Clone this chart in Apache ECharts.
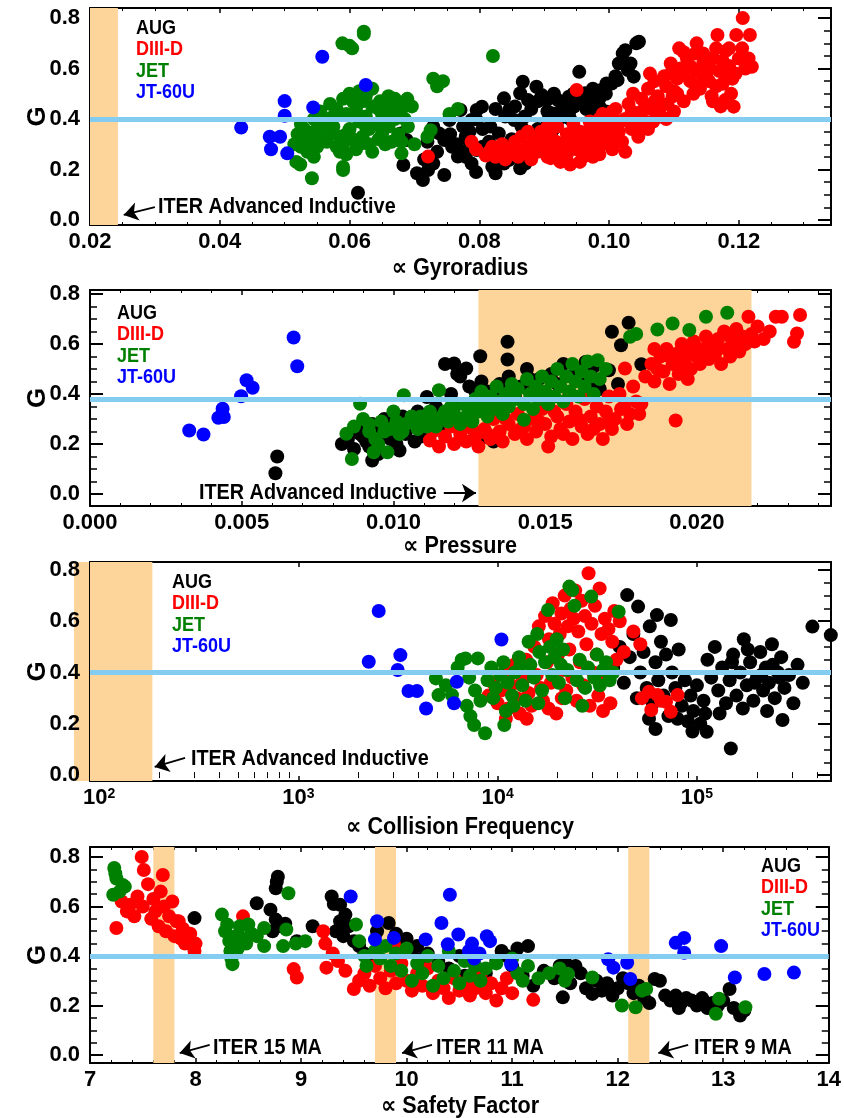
<!DOCTYPE html>
<html>
<head>
<meta charset="utf-8">
<title>G scaling</title>
<script src="https://cdn.jsdelivr.net/npm/echarts@6/dist/echarts.min.js"></script>
<style>
html, body { margin: 0; background: #fff; }
#chart { width: 844px; height: 1118px; }
</style>
</head>
<body>
<div id="chart"></div>
<script>
// tick labels
const yTicks = [0, 0.2, 0.4, 0.6, 0.8];
const gyroTicks = [0.02, 0.04, 0.06, 0.08, 0.10, 0.12];
const pressTicks = [0, 0.005, 0.010, 0.015, 0.020];
const collTicks = [100, 1000, 10000, 100000];
const collMinor = [200, 300, 400, 500, 600, 700, 800, 900, 2000, 3000, 4000, 5000, 6000, 7000, 8000, 9000,
  20000, 30000, 40000, 50000, 60000, 70000, 80000, 90000, 200000, 300000, 400000];
const safetyTicks = [7, 8, 9, 10, 11, 12, 13, 14];

// ---- panel 1 : gyroradius ----
const augGyro = [[0.0613,0.108],[0.0679,0.343],[0.0688,0.317],[0.0683,0.218],[0.0704,0.185],[0.0713,0.158],[0.0721,0.198],[0.0729,0.224],
  [0.0729,0.37],[0.0738,0.343],[0.0746,0.317],[0.0754,0.396],[0.0758,0.29],[0.0767,0.251],[0.0746,0.178],[0.0771,0.436],[0.0775,0.37],
  [0.0779,0.33],[0.0788,0.396],[0.0796,0.436],[0.0804,0.449],[0.0779,0.25],[0.0788,0.224],[0.0796,0.277],[0.082,0.211],[0.0825,0.185],
  [0.0838,0.224],[0.0846,0.238],[0.0863,0.205],[0.0871,0.224],[0.0817,0.37],[0.083,0.343],[0.0838,0.482],[0.0846,0.436],[0.0854,0.396],
  [0.0863,0.502],[0.0867,0.548],[0.0875,0.475],[0.0888,0.528],[0.0896,0.495],[0.0904,0.475],[0.0913,0.422],[0.0921,0.475],[0.0929,0.409],
  [0.0938,0.488],[0.0946,0.449],[0.0913,0.356],[0.0938,0.422],[0.0954,0.587],[0.0963,0.502],[0.0971,0.475],[0.0979,0.436],[0.0988,0.515],
  [0.0996,0.541],[0.1004,0.541],[0.1013,0.554],[0.1021,0.66],[0.1025,0.673],[0.1033,0.62],[0.1042,0.70],[0.1046,0.706],[0.1029,0.594],
  [0.1038,0.568],[0.0765,0.30],[0.0775,0.27],[0.0785,0.35],[0.0795,0.40],[0.081,0.26],[0.0815,0.31],[0.0835,0.27],[0.085,0.32],
  [0.0855,0.45],[0.087,0.41],[0.088,0.44],[0.089,0.36],[0.0905,0.43],[0.0915,0.50],[0.092,0.39],[0.0935,0.46],[0.095,0.47],[0.0965,0.44],
  [0.0975,0.52],[0.0985,0.48],[0.0995,0.50],[0.101,0.57],[0.1015,0.62],[0.0905,0.39],[0.0925,0.43],[0.0945,0.50],[0.0965,0.48],
  [0.0985,0.45],[0.0995,0.43],[0.094,0.40],[0.089,0.47],[0.0865,0.37],[0.084,0.41],[0.0805,0.29],[0.0785,0.31],[0.0755,0.34],
  [0.0735,0.27],[0.072,0.31],[0.0715,0.24],[0.0795,0.19],[0.0805,0.36],[0.0825,0.44]];
const diiidGyro = [[0.0721,0.251],[0.0788,0.31],[0.0795,0.28],[0.081,0.255],[0.0815,0.27],[0.082,0.29],[0.0825,0.25],[0.083,0.265],
  [0.0835,0.30],[0.084,0.24],[0.0845,0.28],[0.085,0.26],[0.0855,0.31],[0.086,0.25],[0.0865,0.33],[0.087,0.27],[0.0875,0.29],[0.088,0.24],
  [0.0885,0.32],[0.089,0.27],[0.0895,0.35],[0.090,0.29],[0.0905,0.25],[0.091,0.33],[0.0915,0.28],[0.092,0.37],[0.0925,0.30],[0.093,0.26],
  [0.0935,0.34],[0.094,0.22],[0.094,0.31],[0.0945,0.38],[0.095,0.28],[0.095,0.515],[0.0955,0.35],[0.096,0.25],[0.0965,0.32],[0.097,0.39],
  [0.0975,0.29],[0.098,0.36],[0.0985,0.26],[0.099,0.42],[0.0995,0.33],[0.100,0.38],[0.1005,0.28],[0.101,0.44],[0.1015,0.35],[0.102,0.31],
  [0.1025,0.40],[0.103,0.46],[0.1035,0.36],[0.1037,0.50],[0.104,0.42],[0.1045,0.33],[0.105,0.48],[0.1055,0.39],[0.106,0.52],[0.1063,0.58],
  [0.1065,0.44],[0.107,0.55],[0.1075,0.49],[0.108,0.41],[0.1085,0.57],[0.1088,0.53],[0.109,0.46],[0.1095,0.62],[0.110,0.51],[0.1105,0.56],
  [0.1108,0.68],[0.111,0.60],[0.1115,0.47],[0.112,0.64],[0.1125,0.55],[0.1133,0.66],[0.1135,0.59],[0.114,0.52],[0.1145,0.62],[0.115,0.57],
  [0.1154,0.55],[0.1158,0.49],[0.116,0.64],[0.1167,0.733],[0.117,0.59],[0.1175,0.54],[0.1179,0.475],[0.118,0.67],[0.1185,0.61],[0.119,0.56],
  [0.1192,0.449],[0.1196,0.733],[0.120,0.64],[0.1206,0.80],[0.121,0.60],[0.1217,0.733],[0.122,0.607],[0.1343,0.39],[0.0875,0.35],
  [0.0905,0.37],[0.0925,0.23],[0.0965,0.27],[0.0985,0.40],[0.1005,0.43],[0.1025,0.27],[0.104,0.38],[0.106,0.36],[0.091,0.245],[0.0935,0.26],
  [0.097,0.345],[0.099,0.30],[0.101,0.31],[0.103,0.40],[0.105,0.43],[0.107,0.47],[0.110,0.43],[0.113,0.50],[0.1145,0.56],[0.1165,0.53],
  [0.118,0.58],[0.1135,0.70],[0.1115,0.665],[0.1095,0.58],[0.1105,0.50],[0.1115,0.58],[0.1125,0.61],[0.1135,0.53],[0.1145,0.66],
  [0.1155,0.60],[0.1165,0.68],[0.1175,0.63],[0.1185,0.68],[0.1195,0.58],[0.1205,0.68],[0.1215,0.64],[0.1160,0.47],[0.1172,0.45],
  [0.1188,0.50],[0.1098,0.49],[0.1078,0.44],[0.1058,0.45],[0.1035,0.43],[0.1018,0.39],[0.0998,0.36],[0.0978,0.33],[0.0958,0.30],
  [0.0938,0.29],[0.0918,0.31],[0.0898,0.30],[0.0878,0.27],[0.0858,0.28],[0.0838,0.27],[0.1048,0.36],[0.1068,0.39],[0.1088,0.40],
  [0.1005,0.33],[0.0965,0.35],[0.0945,0.33],[0.0925,0.27],[0.0905,0.31],[0.0955,0.23],[0.0975,0.25]];
const jetGyro = [[0.0515,0.30],[0.052,0.34],[0.0525,0.38],[0.053,0.36],[0.0535,0.27],[0.054,0.32],[0.0545,0.40],[0.055,0.35],[0.055,0.29],
  [0.0555,0.43],[0.056,0.38],[0.0565,0.31],[0.057,0.46],[0.057,0.34],[0.0575,0.41],[0.058,0.29],[0.058,0.44],[0.0585,0.33],[0.059,0.48],
  [0.059,0.30],[0.0595,0.42],[0.060,0.36],[0.060,0.50],[0.0605,0.32],[0.061,0.44],[0.061,0.28],[0.0615,0.39],[0.062,0.47],[0.062,0.33],
  [0.0625,0.41],[0.063,0.36],[0.063,0.30],[0.0635,0.45],[0.064,0.38],[0.0645,0.32],[0.065,0.42],[0.065,0.34],[0.0655,0.30],[0.066,0.46],
  [0.066,0.37],[0.0665,0.31],[0.067,0.48],[0.067,0.40],[0.0675,0.34],[0.068,0.44],[0.068,0.31],[0.069,0.37],[0.070,0.30],[0.0575,0.37],
  [0.0635,0.27],[0.0595,0.26],[0.0545,0.25],[0.0535,0.31],[0.0605,0.47],[0.0615,0.51],[0.0625,0.49],[0.0635,0.52],[0.0647,0.47],
  [0.066,0.49],[0.0675,0.46],[0.0689,0.48],[0.0696,0.45],[0.0589,0.70],[0.060,0.69],[0.0604,0.68],[0.0622,0.746],[0.0622,0.737],
  [0.0821,0.65],[0.0729,0.56],[0.0744,0.55],[0.0735,0.53],[0.0518,0.23],[0.0524,0.22],[0.0542,0.165],[0.059,0.21],[0.059,0.198],
  [0.068,0.264],[0.0767,0.44],[0.0754,0.42],[0.072,0.33],[0.0725,0.356],[0.0625,0.37],[0.0595,0.34],[0.0555,0.32],[0.0565,0.40],
  [0.0645,0.44],[0.0605,0.42],[0.0615,0.30],[0.0585,0.27],[0.0665,0.43],[0.0655,0.39],[0.0685,0.40],[0.0525,0.29],[0.0545,0.35]];
const jt60Gyro = [[0.0433,0.366],[0.0477,0.330],[0.0479,0.280],[0.0493,0.330],[0.0500,0.471],[0.0500,0.413],[0.0504,0.264],
  [0.0544,0.446],[0.0558,0.647],[0.0625,0.535]];

// ---- panel 2 : pressure ----
const augPress = [[0.00611,0.083],[0.00617,0.150],[0.0083,0.20],[0.0085,0.22],[0.0087,0.18],[0.0089,0.24],[0.0091,0.21],[0.0093,0.134],
  [0.0093,0.28],[0.0095,0.16],[0.0095,0.25],[0.0097,0.30],[0.0099,0.22],[0.0100,0.27],[0.0102,0.174],[0.0103,0.31],[0.0104,0.24],
  [0.0106,0.29],[0.0107,0.21],[0.0108,0.33],[0.0110,0.26],[0.0111,0.388],[0.0112,0.30],[0.0114,0.35],[0.0116,0.28],[0.0118,0.32],
  [0.0119,0.40],[0.0120,0.522],[0.0121,0.36],[0.0122,0.47],[0.0123,0.30],[0.0124,0.502],[0.0125,0.43],[0.0126,0.34],[0.0128,0.38],
  [0.01286,0.551],[0.0129,0.45],[0.0131,0.227],[0.0131,0.41],[0.0133,0.36],[0.0135,0.44],[0.01376,0.609],[0.01376,0.538],[0.0138,0.47],
  [0.0140,0.39],[0.0142,0.43],[0.0144,0.50],[0.0146,0.41],[0.0148,0.46],[0.0150,0.38],[0.0152,0.48],[0.0154,0.44],[0.0156,0.52],
  [0.0158,0.40],[0.0160,0.49],[0.01633,0.528],[0.0165,0.45],[0.0168,0.42],[0.0171,0.495],[0.0172,0.649],[0.0174,0.44],[0.0175,0.595],
  [0.01775,0.685],[0.01817,0.519],[0.0129,0.24],[0.0133,0.21],[0.0117,0.52],[0.0121,0.48],[0.0088,0.26],[0.0092,0.19],[0.0096,0.23],
  [0.0101,0.20],[0.0105,0.27],[0.0109,0.23],[0.0113,0.27],[0.0098,0.28],[0.0090,0.23],[0.0115,0.32],[0.0127,0.41],[0.0136,0.40],
  [0.0145,0.46],[0.0162,0.47],[0.0166,0.51]];
const diiidPress = [[0.0112,0.214],[0.0113,0.25],[0.0115,0.19],[0.0117,0.23],[0.0119,0.27],[0.0120,0.20],[0.0122,0.24],[0.0124,0.21],
  [0.0125,0.28],[0.0127,0.23],[0.0128,0.19],[0.0130,0.26],[0.0132,0.22],[0.0133,0.30],[0.0135,0.25],[0.0136,0.21],[0.0138,0.28],
  [0.0140,0.24],[0.0141,0.32],[0.0143,0.27],[0.0144,0.22],[0.0146,0.30],[0.0147,0.25],[0.0149,0.34],[0.0150,0.28],[0.0151,0.19],
  [0.0152,0.23],[0.0154,0.31],[0.0155,0.26],[0.0157,0.36],[0.0158,0.29],[0.0159,0.22],[0.0160,0.33],[0.0162,0.27],[0.0163,0.38],
  [0.0164,0.24],[0.0165,0.31],[0.0167,0.35],[0.0168,0.28],[0.0169,0.22],[0.0170,0.33],[0.0171,0.39],[0.0172,0.26],[0.0173,0.30],
  [0.01745,0.40],[0.0175,0.34],[0.01763,0.502],[0.0177,0.28],[0.0178,0.32],[0.0180,0.37],[0.01817,0.361],[0.0179,0.43],
  [0.0183,0.47],[0.0185,0.52],[0.0186,0.45],[0.0188,0.55],[0.0189,0.49],[0.0190,0.58],[0.0191,0.44],[0.0192,0.52],[0.0193,0.294],
  [0.0193,0.56],[0.0194,0.48],[0.0195,0.60],[0.0196,0.53],[0.0197,0.57],[0.0198,0.50],[0.0199,0.61],[0.0200,0.55],[0.0201,0.52],
  [0.0202,0.58],[0.0203,0.63],[0.0204,0.54],[0.0205,0.59],[0.0206,0.56],[0.0207,0.62],[0.0208,0.52],[0.0209,0.65],[0.0210,0.58],
  [0.0211,0.55],[0.0212,0.61],[0.0213,0.66],[0.0214,0.57],[0.0215,0.63],[0.0217,0.709],[0.0216,0.60],[0.0218,0.64],[0.0220,0.67],
  [0.0222,0.62],[0.0226,0.709],[0.0228,0.709],[0.0232,0.609],[0.0233,0.642],[0.0234,0.716],[0.0246,0.776],[0.0126,0.26],[0.0131,0.24],
  [0.0137,0.30],[0.0142,0.26],[0.0148,0.29],[0.0153,0.33],[0.0156,0.24],[0.0161,0.30],[0.0166,0.26],[0.0171,0.29],[0.0176,0.35],
  [0.0181,0.32],[0.0187,0.50],[0.0191,0.55],[0.0195,0.52],[0.0199,0.56],[0.0203,0.57],[0.0207,0.58],[0.0211,0.63],[0.0215,0.60],
  [0.0219,0.61],[0.0224,0.65],[0.0186,0.58],[0.0197,0.46]];
const jetPress = [[0.00845,0.241],[0.00863,0.14],[0.0087,0.27],[0.0089,0.361],[0.0090,0.30],[0.0092,0.25],[0.00935,0.167],[0.0094,0.22],
  [0.0096,0.29],[0.0098,0.167],[0.0099,0.26],[0.0100,0.33],[0.01034,0.395],[0.0102,0.24],[0.0104,0.28],[0.0106,0.31],[0.0108,0.26],
  [0.0110,0.29],[0.0112,0.33],[0.0114,0.27],[0.0115,0.415],[0.0116,0.31],[0.0118,0.29],[0.0119,0.35],[0.0120,0.32],[0.0122,0.28],
  [0.0123,0.36],[0.0124,0.31],[0.0125,0.34],[0.0126,0.29],[0.0127,0.38],[0.0128,0.33],[0.0129,0.41],[0.0130,0.36],[0.0131,0.31],
  [0.0132,0.39],[0.0133,0.34],[0.0134,0.43],[0.0135,0.37],[0.0136,0.32],[0.0137,0.40],[0.0138,0.35],[0.0139,0.44],[0.0140,0.38],
  [0.0141,0.42],[0.0143,0.297],[0.0143,0.36],[0.0144,0.46],[0.0145,0.40],[0.0146,0.34],[0.0147,0.43],[0.0148,0.38],[0.0149,0.47],
  [0.0150,0.41],[0.0151,0.36],[0.0152,0.45],[0.0153,0.39],[0.0154,0.50],[0.0155,0.43],[0.0156,0.37],[0.0157,0.47],[0.0158,0.41],
  [0.0159,0.52],[0.0160,0.45],[0.0161,0.39],[0.0162,0.49],[0.0163,0.43],[0.0164,0.53],[0.0165,0.47],[0.0166,0.40],[0.01673,0.535],
  [0.0168,0.46],[0.0170,0.50],[0.0178,0.629],[0.0180,0.64],[0.0187,0.658],[0.0192,0.682],[0.01975,0.656],[0.0203,0.709],[0.0210,0.725],
  [0.0092,0.28],[0.0095,0.20],[0.0097,0.25],[0.0101,0.29],[0.0103,0.25],[0.0107,0.28],[0.0109,0.31],[0.0111,0.27],[0.0113,0.30],
  [0.0117,0.33]];
const jt60Press = [[0.00327,0.254],[0.00374,0.238],[0.00423,0.305],[0.00437,0.341],[0.00441,0.308],[0.00498,0.391],[0.00516,0.455],
  [0.00536,0.425],[0.00671,0.626],[0.00683,0.511]];

// ---- panel 3 : collision frequency ----
const augColl = [[44700,0.702],[50700,0.657],[63000,0.624],[74000,0.605],[380000,0.579],[470000,0.546],[148000,0.104],[269000,0.215],
  [62000,0.18],[57500,0.22],[112000,0.169],[38000,0.42],[41000,0.50],[43000,0.36],[46000,0.46],[48000,0.55],[50000,0.30],[52000,0.40],
  [54000,0.48],[56000,0.34],[58000,0.58],[60000,0.28],[62000,0.44],[64000,0.37],[66000,0.52],[68000,0.31],[70000,0.47],[72000,0.23],
  [75000,0.40],[78000,0.34],[81000,0.49],[84000,0.27],[87000,0.37],[90000,0.21],[93000,0.31],[96000,0.25],[100000,0.35],[104000,0.20],
  [108000,0.29],[113000,0.45],[118000,0.38],[123000,0.50],[128000,0.33],[134000,0.42],[140000,0.28],[146000,0.37],[152000,0.47],
  [158000,0.31],[165000,0.40],[172000,0.53],[178000,0.35],[185000,0.44],[192000,0.29],[200000,0.38],[208000,0.48],[215000,0.33],
  [222000,0.42],[230000,0.36],[238000,0.51],[246000,0.30],[255000,0.40],[265000,0.46],[275000,0.34],[290000,0.39],[305000,0.28],
  [320000,0.43],[340000,0.36],[170000,0.26],[195000,0.36],[225000,0.25],[150000,0.44],[180000,0.49],[210000,0.39],[240000,0.43],
  [260000,0.38],[130000,0.24],[95000,0.17],[80000,0.22],[110000,0.24]];
const diiidColl = [[9000,0.31],[9500,0.36],[10000,0.28],[10400,0.33],[10800,0.40],[11300,0.26],[11700,0.35],[12100,0.43],[12500,0.30],
  [12900,0.24],[13400,0.37],[13900,0.45],[14300,0.32],[14800,0.27],[15300,0.50],[15700,0.39],[16100,0.58],[16500,0.34],[16900,0.29],
  [17300,0.62],[17700,0.44],[18100,0.53],[18500,0.36],[18900,0.67],[19300,0.59],[19700,0.24],[20100,0.47],[20500,0.55],[20900,0.63],
  [21300,0.41],[21700,0.70],[22100,0.33],[22500,0.58],[22900,0.49],[23300,0.65],[23700,0.38],[24100,0.61],[24500,0.72],[24900,0.29],
  [25400,0.56],[25900,0.44],[26400,0.68],[26900,0.35],[27400,0.62],[27900,0.51],[28600,0.787],[29000,0.27],[29600,0.59],[30200,0.40],
  [30800,0.66],[31400,0.47],[32000,0.31],[32500,0.728],[33200,0.55],[33800,0.25],[34500,0.61],[35200,0.38],[36000,0.57],[36800,0.28],
  [37600,0.52],[38500,0.64],[39500,0.45],[41000,0.60],[43000,0.48],[11000,0.22],[14000,0.22],[18000,0.26],[21000,0.30],
  [57500,0.325],[59000,0.254],[63500,0.312],[70000,0.286],[74000,0.247],[80000,0.312],[66000,0.29],[53000,0.30],[52000,0.51],[48000,0.56]];
const jetColl = [[4900,0.377],[5050,0.312],[5900,0.312],[5500,0.35],[6300,0.42],[6600,0.45],[6900,0.455],[7200,0.38],[7950,0.455],
  [7000,0.27],[7300,0.23],[7620,0.195],[8650,0.163],[10800,0.195],[7700,0.33],[8200,0.29],[8900,0.37],[9300,0.42],[9800,0.34],
  [10300,0.39],[10700,0.44],[11200,0.36],[11800,0.31],[12200,0.40],[12800,0.46],[13300,0.35],[13800,0.29],[14300,0.52],[14600,0.43],
  [15200,0.38],[15800,0.55],[16200,0.48],[16700,0.33],[17300,0.44],[17900,0.644],[18300,0.50],[18800,0.39],[19300,0.46],[19800,0.53],
  [20300,0.36],[20800,0.43],[21300,0.49],[21800,0.30],[22400,0.41],[22900,0.735],[23700,0.722],[24300,0.66],[25000,0.37],[25800,0.45],
  [26600,0.27],[27500,0.34],[28400,0.42],[29500,0.696],[30500,0.38],[31500,0.47],[32600,0.35],[33800,0.41],[35000,0.44],[36500,0.37],
  [38000,0.40],[40500,0.637],[12000,0.27],[11000,0.25],[16000,0.28],[13000,0.43],[9500,0.30]];
const jt60Coll = [[2530,0.64],[2255,0.442],[3250,0.468],[3150,0.41],[3570,0.328],[3935,0.328],[4375,0.26],[6240,0.364],[6040,0.28],
  [10450,0.529]];

// ---- panel 4 : safety factor ----
const augSafety = [[7.99,0.553],[8.58,0.613],[8.71,0.587],[8.76,0.673],[8.77,0.70],[8.78,0.72],[8.76,0.547],[8.81,0.52],[8.73,0.50],
  [8.85,0.53],[8.96,0.46],[9.11,0.52],[9.29,0.64],[9.31,0.61],[9.37,0.607],[9.42,0.567],[9.37,0.54],[9.33,0.50],[9.40,0.48],[9.45,0.52],
  [9.50,0.46],[9.55,0.44],[9.60,0.41],[9.65,0.38],[9.72,0.50],[9.83,0.533],[9.90,0.49],[9.95,0.45],[10.0,0.47],[10.05,0.42],[10.1,0.44],
  [10.15,0.39],[10.2,0.41],[10.3,0.38],[10.4,0.35],[10.5,0.40],[10.55,0.32],[10.59,0.253],[10.65,0.36],[10.7,0.30],[10.75,0.33],
  [10.85,0.38],[10.9,0.42],[10.95,0.40],[11.0,0.36],[11.05,0.43],[11.15,0.44],[11.2,0.28],[11.1,0.32],[11.3,0.34],[11.4,0.31],
  [11.45,0.36],[11.48,0.233],[11.5,0.38],[11.55,0.29],[11.6,0.36],[11.65,0.33],[11.7,0.27],[11.76,0.247],[11.8,0.30],[11.85,0.26],
  [11.9,0.29],[11.95,0.24],[12.0,0.27],[12.05,0.31],[12.1,0.29],[12.15,0.25],[12.2,0.28],[12.25,0.23],[12.35,0.307],[12.4,0.30],
  [12.45,0.24],[12.5,0.22],[12.55,0.24],[12.6,0.21],[12.65,0.23],[12.7,0.22],[12.75,0.20],[12.8,0.23],[12.85,0.19],[12.9,0.21],
  [12.95,0.20],[13.0,0.22],[13.06,0.267],[13.1,0.19],[13.16,0.16],[13.2,0.18],[12.3,0.21],[12.58,0.19]];
const diiidSafety = [[7.25,0.513],[7.3,0.62],[7.35,0.58],[7.38,0.607],[7.42,0.56],[7.45,0.64],[7.49,0.80],[7.51,0.747],[7.5,0.60],
  [7.55,0.69],[7.58,0.55],[7.6,0.63],[7.62,0.58],[7.65,0.52],[7.67,0.66],[7.69,0.727],[7.7,0.60],[7.72,0.50],[7.75,0.56],[7.78,0.62],
  [7.8,0.48],[7.82,0.54],[7.84,0.54],[7.86,0.47],[7.88,0.51],[7.9,0.45],[7.95,0.49],[7.99,0.42],[8.0,0.45],[8.45,0.56],[8.93,0.347],
  [8.96,0.313],[9.21,0.50],[9.23,0.45],[9.24,0.353],[9.3,0.41],[9.35,0.38],[9.42,0.34],[9.5,0.267],[9.55,0.30],[9.6,0.33],[9.65,0.28],
  [9.7,0.36],[9.75,0.31],[9.8,0.27],[9.85,0.34],[9.88,0.447],[9.9,0.29],[9.95,0.37],[10.0,0.30],[10.05,0.26],[10.1,0.33],[10.15,0.28],
  [10.2,0.35],[10.25,0.25],[10.3,0.30],[10.35,0.27],[10.4,0.23],[10.45,0.31],[10.5,0.26],[10.55,0.29],[10.6,0.24],[10.65,0.27],
  [10.7,0.32],[10.75,0.25],[10.8,0.29],[10.85,0.22],[10.9,0.27],[10.95,0.31],[11.0,0.25],[11.2,0.223]];
const jetSafety = [[7.22,0.647],[7.23,0.755],[7.24,0.733],[7.25,0.713],[7.31,0.687],[7.33,0.68],[7.28,0.66],[8.25,0.567],[8.28,0.50],
  [8.30,0.527],[8.32,0.46],[8.33,0.42],[8.34,0.39],[8.35,0.367],[8.36,0.44],[8.38,0.48],[8.40,0.43],[8.42,0.52],[8.45,0.47],[8.48,0.45],
  [8.50,0.527],[8.53,0.49],[8.58,0.48],[8.65,0.513],[8.65,0.44],[8.83,0.44],[8.88,0.653],[8.86,0.507],[9.04,0.46],[8.95,0.45],
  [9.52,0.527],[9.55,0.46],[9.6,0.40],[9.62,0.36],[9.7,0.42],[9.75,0.39],[9.8,0.44],[9.85,0.36],[9.9,0.41],[9.95,0.34],[10.0,0.43],
  [10.05,0.30],[10.1,0.37],[10.15,0.33],[10.2,0.40],[10.25,0.28],[10.3,0.36],[10.35,0.31],[10.4,0.42],[10.45,0.34],[10.5,0.29],
  [10.55,0.38],[10.6,0.32],[10.65,0.36],[10.7,0.30],[10.75,0.35],[10.85,0.37],[11.0,0.39],[11.05,0.33],[11.1,0.30],[11.15,0.36],
  [11.25,0.31],[11.35,0.33],[11.45,0.35],[11.53,0.327],[11.5,0.30],[11.76,0.313],[12.04,0.20],[12.17,0.193],[12.27,0.267],[12.23,0.26],
  [12.96,0.227],[12.93,0.167],[13.21,0.193]];
const jt60Safety = [[9.47,0.64],[9.72,0.54],[9.70,0.467],[9.88,0.473],[10.18,0.467],[10.33,0.533],[10.41,0.647],[10.39,0.447],
  [10.49,0.487],[10.59,0.42],[10.64,0.39],[10.62,0.45],[10.69,0.41],[10.76,0.48],[10.79,0.46],[10.99,0.367],[11.91,0.387],[11.96,0.353],
  [12.09,0.373],[12.12,0.307],[12.55,0.453],[12.63,0.473],[12.63,0.413],[12.98,0.44],[13.11,0.313],[13.39,0.327],[13.67,0.333]];

// ITER bands and reference G level
const gyroBands = [[0.02, 0.0243]];
const pressBands = [[0.0128, 0.0218]];
const collBands = [[74, 185]];
const safetyBands = [[7.6, 7.8], [9.7, 9.9], [12.1, 12.3]];
const gLevel = [0.40, 0.38, 0.40, 0.40];

// annotation arrows [from, to] in data units
const gyroArrows = [[[0.0300, 0.051], [0.0252, 0.020]]];
const pressArrows = [[[0.01166, 0.004], [0.01272, 0.004]]];
const collArrows = [[[270, 0.067], [190, 0.032]]];
const safetyArrows = [[[8.134, 0.041], [7.85, 0.008]], [[10.24, 0.041], [9.957, 0.008]], [[12.668, 0.041], [12.385, 0.008]]];

const FONT = "'Liberation Sans','DejaVu Sans',sans-serif";
const COLORS = { 'AUG': '#000000', 'DIII-D': '#ff0000', 'JET': '#008000', 'JT-60U': '#0000ff' };
const BAND = '#fdd49a';

const panels = [
    { top: 8, height: 217, ymin: -0.02, ymax: 0.84, type: 'value', min: 0.02, max: 0.1342, interval: 0.02, minor: 4,
      ticks: gyroTicks, digits: 2, name: '∝ Gyroradius', nameY: 268,
      sets: [augGyro, diiidGyro, jetGyro, jt60Gyro], bands: gyroBands, arrows: gyroArrows },
    { top: 290, height: 216, ymin: -0.048, ymax: 0.816, type: 'value', min: 0, max: 0.02442, interval: 0.005, minor: 5,
      ticks: pressTicks, digits: 3, name: '∝ Pressure', nameY: 546,
      sets: [augPress, diiidPress, jetPress, jt60Press], bands: pressBands, arrows: pressArrows },
    { top: 562, height: 219, ymin: -0.023, ymax: 0.831, type: 'log', min: 90, max: 471000,
      ticks: collTicks, name: '∝ Collision Frequency', nameY: 827,
      sets: [augColl, diiidColl, jetColl, jt60Coll], bands: collBands, arrows: collArrows },
    { top: 847, height: 216, ymin: -0.032, ymax: 0.84, type: 'value', min: 7, max: 14, interval: 1, minor: 5,
      ticks: safetyTicks, digits: 0, name: '∝ Safety Factor', nameY: 1106,
      sets: [augSafety, diiidSafety, jetSafety, jt60Safety], bands: safetyBands, arrows: safetyArrows }
];

const isTick = (list, v) => list.some(t => Math.abs(t - v) < 1e-9 * Math.max(1, Math.abs(t)));

const grid = [], xAxis = [], yAxis = [], series = [];
const boxLine = { show: true, onZero: false, lineStyle: { color: '#000', width: 2 } };
const xAxisOf = [];   // index of the bottom x axis of each grid

panels.forEach((p, g) => {
    grid.push({ left: 90, right: 13, top: p.top, height: p.height });

    const xBase = {
        gridIndex: g, type: p.type, min: p.min, max: p.max, splitLine: { show: false },
        axisLine: boxLine,
        axisTick: { show: true, inside: true, length: 5, customValues: p.ticks, lineStyle: { color: '#000', width: 1.5 } },
        minorTick: { show: p.type !== 'log', splitNumber: p.minor || 5, length: 3, lineStyle: { color: '#000', width: 1 } }
    };
    if (p.interval) xBase.interval = p.interval;
    if (p.type === 'log') xBase.logBase = 10;

    const xLabel = p.type === 'log'
        ? {
            customValues: p.ticks, margin: 6, color: '#000',
            formatter: v => '{b|10}{s|' + Math.round(Math.log10(v)) + '}',
            rich: {
                b: { fontSize: 22, fontWeight: 'bold', fontFamily: FONT, color: '#000', verticalAlign: 'bottom' },
                s: { fontSize: 14, fontWeight: 'bold', fontFamily: FONT, color: '#000', verticalAlign: 'top' }
            }
        }
        : {
            customValues: p.ticks, margin: 6, color: '#000', fontSize: 22, fontWeight: 'bold', fontFamily: FONT,
            formatter: v => isTick(p.ticks, v) ? v.toFixed(p.digits) : ''
        };

    xAxisOf.push(xAxis.length);
    xAxis.push(Object.assign({}, xBase, { position: 'bottom', axisLabel: xLabel }));
    xAxis.push(Object.assign({}, xBase, { position: 'top', axisLabel: { show: false } }));
    if (p.type === 'log') {
        // short log-decade minor ticks on both frame edges
        ['bottom', 'top'].forEach(pos => {
            xAxis.push(Object.assign({}, xBase, {
                position: pos, axisLine: { show: false }, axisLabel: { show: false }, minorTick: { show: false },
                axisTick: { show: true, inside: true, length: 3, customValues: collMinor, lineStyle: { color: '#000', width: 1 } }
            }));
        });
    }

    const yBase = {
        gridIndex: g, type: 'value', min: p.ymin, max: p.ymax, splitLine: { show: false },
        axisLine: boxLine,
        axisTick: { show: true, inside: true, length: 13, customValues: yTicks, lineStyle: { color: '#000', width: 2 } },
        minorTick: { show: true, splitNumber: 4, length: 7, lineStyle: { color: '#000', width: 1.5 } }
    };
    yAxis.push(Object.assign({}, yBase, {
        position: 'left',
        axisLabel: { customValues: yTicks, margin: 10, color: '#000', fontSize: 22, fontWeight: 'bold', fontFamily: FONT,
            formatter: v => isTick(yTicks, v) ? v.toFixed(1) : '' },
        name: 'G', nameLocation: 'middle', nameRotate: 90, nameGap: 39, nameMoveOverlap: false,
        nameTextStyle: { fontSize: 26, fontWeight: 'bold', fontFamily: FONT, color: '#000' }
    }));
    yAxis.push(Object.assign({}, yBase, { position: 'right', axisLabel: { show: false } }));
});

panels.forEach((p, g) => {
    const xi = xAxisOf[g], yi = 2 * g;

    // bands and the reference level under the data
    series.push({
        type: 'scatter', xAxisIndex: xi, yAxisIndex: yi, data: [], z: 1, silent: true,
        markArea: { silent: true, itemStyle: { color: BAND },
            data: p.bands.map(b => [{ xAxis: b[0] }, { xAxis: b[1] }]) },
        markLine: { silent: true, symbol: 'none', label: { show: false },
            lineStyle: { color: '#84cdf0', width: 5, type: 'solid' },
            data: [{ yAxis: gLevel[g] }] }
    });

    ['AUG', 'DIII-D', 'JET', 'JT-60U'].forEach((name, k) => {
        series.push({
            type: 'scatter', name: name, xAxisIndex: xi, yAxisIndex: yi, z: 3,
            data: p.sets[k], symbol: 'circle', symbolSize: 14,
            itemStyle: { color: COLORS[name], opacity: 1 }
        });
    });

    // arrows pointing at the ITER bands
    series.push({
        type: 'scatter', xAxisIndex: xi, yAxisIndex: yi, data: [], z: 5, silent: true,
        markLine: { silent: true, symbol: ['none', 'arrow'], symbolSize: 14, label: { show: false },
            lineStyle: { color: '#000', width: 1.8, type: 'solid' },
            data: p.arrows.map(a => [{ coord: a[0] }, { coord: a[1] }]) }
    });
});

// legend texts, axis titles and annotation labels
const txt = (text, x, y, color, size, align) => ({
    type: 'text', x: x, y: y, z: 10, scaleX: 0.9,
    style: { text: text, fill: color, fontSize: size, fontWeight: 'bold', fontFamily: FONT,
        verticalAlign: 'middle', align: align || 'left' }
});
const legendAt = [[136, 28], [117, 313], [172, 582], [761, 866]];
const graphic = [
    // the third ITER band spills a little past the left frame in the original
    { type: 'rect', z: -10, shape: { x: 74, y: 562, width: 17, height: 219 }, style: { fill: BAND } }
];
legendAt.forEach(pos => {
    ['AUG', 'DIII-D', 'JET', 'JT-60U'].forEach((name, k) => {
        graphic.push(txt(name, pos[0], pos[1] + k * 21.5, COLORS[name], 20));
    });
});
panels.forEach(p => graphic.push(txt(p.name, 460, p.nameY, '#000', 24, 'center')));
graphic.push(txt('ITER Advanced Inductive', 158, 207, '#000', 22));
graphic.push(txt('ITER Advanced Inductive', 199, 493, '#000', 22));
graphic.push(txt('ITER Advanced Inductive', 191, 759, '#000', 22));
graphic.push(txt('ITER 15 MA', 213, 1048, '#000', 22));
graphic.push(txt('ITER 11 MA', 436, 1048, '#000', 22));
graphic.push(txt('ITER 9 MA', 694, 1048, '#000', 22));

const chart = echarts.init(document.getElementById('chart'));
chart.setOption({
    animation: false,
    backgroundColor: '#fff',
    grid: grid,
    xAxis: xAxis,
    yAxis: yAxis,
    series: series,
    graphic: graphic
});
</script>
</body>
</html>
